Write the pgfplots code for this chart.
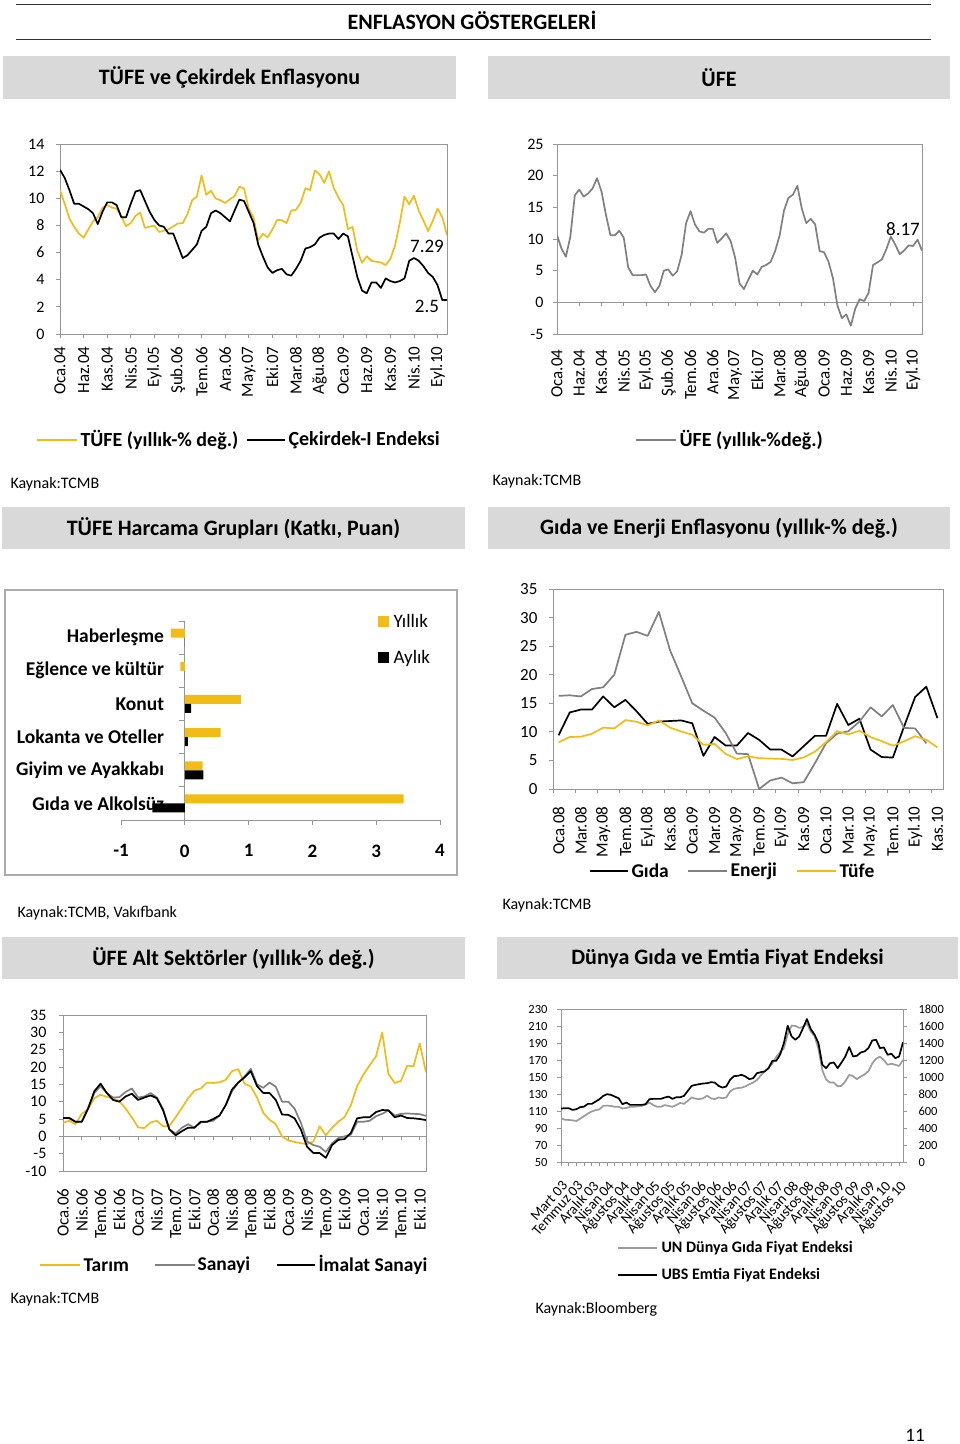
\documentclass[border=0pt]{standalone}
\usepackage{pgfplots}
\usepackage{pgfplotstable}
\pgfplotsset{compat=1.18}
\usepackage{fontspec}
\setmainfont{Carlito}
\definecolor{tyel}{RGB}{242,188,22}
\definecolor{tgry}{RGB}{128,128,128}
\definecolor{lgry}{RGB}{155,155,155}
\definecolor{boxg}{RGB}{217,217,217}
\definecolor{axg}{RGB}{150,150,150}
\newcommand\fs[1]{\fontsize{#1}{#1}\selectfont}
\pgfplotsset{
 xl/.style={scale only axis, anchor=south west,
   axis line style={axg,line width=0.9pt},
   tick style={axg,line width=0.8pt},
   tick align=outside, major tick length=4pt, minor tick length=4pt,
   tick pos=left,
   /pgf/number format/assume math mode=true,
   /pgf/number format/1000 sep={},
   yticklabel style={font=\fs{16}},
   xticklabel style={rotate=90,anchor=east,font=\fs{17}},
   every axis plot/.append style={line width=1.7pt,mark=none,line join=round}},
}
% TUFE (yillik) Oca.04 - Kas.10
\pgfplotstableread[row sep=\\]{v\\
10.6\\9.6\\8.5\\7.9\\7.4\\7.1\\7.7\\8.3\\8.6\\9.3\\9.5\\9.32\\
9.24\\8.69\\7.94\\8.18\\8.70\\8.95\\7.82\\7.91\\7.99\\7.52\\7.61\\7.72\\
7.93\\8.15\\8.16\\8.83\\9.86\\10.12\\11.69\\10.26\\10.55\\9.98\\9.86\\9.65\\
9.93\\10.16\\10.86\\10.72\\9.23\\8.60\\6.90\\7.39\\7.12\\7.70\\8.40\\8.39\\
8.17\\9.10\\9.15\\9.66\\10.74\\10.61\\12.06\\11.77\\11.13\\11.99\\10.76\\10.06\\
9.50\\7.73\\7.89\\6.13\\5.24\\5.73\\5.39\\5.33\\5.27\\5.08\\5.53\\6.53\\
8.19\\10.13\\9.56\\10.19\\9.10\\8.37\\7.58\\8.33\\9.24\\8.62\\7.29\\}\tufeA
% Cekirdek-I
\pgfplotstableread[row sep=\\]{v\\
12.1\\11.5\\10.6\\9.6\\9.6\\9.4\\9.2\\8.9\\8.1\\9.0\\9.7\\9.7\\
9.5\\8.6\\8.6\\9.6\\10.5\\10.6\\9.8\\9.0\\8.4\\8.0\\7.9\\7.4\\
7.4\\6.5\\5.6\\5.8\\6.2\\6.6\\7.6\\7.9\\8.9\\9.1\\8.9\\8.6\\
8.3\\9.1\\9.9\\9.8\\9.0\\8.2\\6.6\\5.7\\4.9\\4.5\\4.7\\4.8\\
4.4\\4.3\\4.8\\5.4\\6.3\\6.4\\6.6\\7.1\\7.3\\7.4\\7.4\\7.0\\
7.4\\7.2\\5.7\\4.2\\3.2\\3.0\\3.8\\3.8\\3.4\\4.1\\3.9\\3.8\\
3.9\\4.1\\5.4\\5.6\\5.4\\5.0\\4.5\\4.2\\3.6\\2.5\\2.5\\}\coreA
% UFE
\pgfplotstableread[row sep=\\]{v\\
10.6\\8.5\\7.2\\10.4\\16.9\\17.8\\16.7\\17.2\\18.0\\19.6\\17.5\\13.8\\
10.6\\10.6\\11.3\\10.2\\5.5\\4.3\\4.3\\4.3\\4.4\\2.6\\1.6\\2.6\\
5.0\\5.2\\4.2\\4.9\\7.5\\12.5\\14.4\\12.3\\11.2\\11.0\\11.6\\11.6\\
9.4\\10.1\\10.9\\9.7\\7.1\\3.0\\2.1\\3.6\\5.0\\4.4\\5.6\\5.9\\
6.4\\8.1\\10.5\\14.5\\16.5\\17.0\\18.4\\14.8\\12.5\\13.2\\12.3\\8.1\\
7.9\\6.4\\3.8\\-0.5\\-2.5\\-1.9\\-3.7\\-1.0\\0.5\\0.2\\1.5\\5.9\\
6.3\\6.8\\8.4\\10.4\\9.1\\7.6\\8.2\\9.0\\8.9\\9.9\\8.17\\}\ufeA
% Gida / Enerji / Tufe  Oca.08 - Kas.10
\pgfplotstableread[row sep=\\]{v\\
9.4\\13.4\\13.9\\13.9\\16.2\\14.3\\15.6\\13.6\\11.4\\11.8\\11.9\\12.0\\
11.5\\5.8\\9.1\\7.6\\7.6\\9.8\\8.6\\6.9\\6.9\\5.7\\7.5\\9.3\\
9.3\\14.9\\11.2\\12.3\\6.9\\5.6\\5.5\\10.9\\16.1\\17.9\\12.4\\}\gidaB
\pgfplotstableread[row sep=\\]{v\\
16.3\\16.4\\16.2\\17.5\\17.8\\20.0\\27.0\\27.5\\26.8\\31.0\\24.3\\19.7\\
15.0\\13.7\\12.5\\9.8\\6.2\\6.1\\0.0\\1.5\\2.0\\1.0\\1.2\\4.5\\
8.0\\9.7\\10.1\\11.8\\14.3\\12.7\\14.7\\10.7\\10.6\\8.0\\}\enerjiB
\pgfplotstableread[row sep=\\]{v\\
8.17\\9.10\\9.15\\9.66\\10.74\\10.61\\12.06\\11.77\\11.13\\11.99\\10.76\\10.06\\
9.50\\7.73\\7.89\\6.13\\5.24\\5.73\\5.39\\5.33\\5.27\\5.08\\5.53\\6.53\\
8.19\\10.13\\9.56\\10.19\\9.10\\8.37\\7.58\\8.33\\9.24\\8.62\\7.29\\}\tufeB
% UFE alt sektorler Oca.06 - Kas.10
\pgfplotstableread[row sep=\\]{v\\
3.9\\4.5\\3.5\\6.5\\7.8\\11.0\\12.0\\11.4\\10.9\\10.2\\
8.0\\5.5\\2.6\\2.4\\4.0\\4.5\\2.9\\3.0\\5.5\\8.2\\
11.0\\13.2\\13.8\\15.5\\15.4\\15.6\\16.3\\18.8\\19.4\\15.2\\
14.4\\11.2\\6.8\\4.8\\3.5\\0.0\\-1.2\\-1.6\\-2.0\\-2.2\\
-1.5\\2.9\\0.3\\2.5\\4.2\\5.6\\9.0\\14.5\\17.8\\20.5\\
23.0\\30.0\\18.0\\15.4\\16.0\\20.4\\20.2\\26.8\\18.5\\}\tarimC
\pgfplotstableread[row sep=\\]{v\\
5.3\\5.2\\4.2\\4.2\\8.0\\12.5\\14.5\\12.5\\11.2\\11.3\\
12.8\\13.8\\11.2\\11.5\\12.5\\11.2\\7.8\\2.0\\0.8\\2.5\\
3.5\\2.5\\4.0\\4.2\\4.5\\6.0\\9.0\\13.0\\15.5\\17.2\\
19.5\\15.0\\14.0\\15.5\\14.3\\10.0\\10.0\\8.0\\4.0\\-1.5\\
-2.5\\-3.0\\-4.5\\-2.0\\-0.5\\0.0\\0.5\\4.2\\4.2\\4.5\\
5.8\\6.5\\7.5\\6.0\\6.5\\6.6\\6.5\\6.4\\5.9\\}\sanayiC
\pgfplotstableread[row sep=\\]{v\\
5.3\\5.3\\4.2\\4.2\\8.0\\13.0\\15.2\\12.5\\10.5\\10.0\\
11.5\\12.3\\10.5\\11.2\\11.8\\11.0\\7.5\\2.0\\0.3\\1.5\\
2.5\\2.5\\4.2\\4.2\\5.0\\6.0\\9.0\\13.5\\15.5\\17.0\\
18.8\\14.5\\12.5\\12.5\\10.5\\6.3\\6.2\\5.2\\2.0\\-3.0\\
-4.8\\-4.8\\-6.2\\-2.5\\-1.0\\-0.8\\1.0\\5.2\\5.5\\5.5\\
7.0\\7.6\\7.5\\5.5\\6.0\\5.3\\5.2\\5.0\\4.7\\}\imalatC
% Dunya gida / emtia  Mart 03 - 2010
\pgfplotstableread[row sep=\\]{v\\
101.5\\99.7\\99.5\\99.0\\98.3\\101\\104\\107\\109.5\\111\\
112\\116\\116.4\\116\\115\\115\\113\\113.5\\115\\115\\
115.5\\116\\117.5\\120\\117\\115\\115\\117\\116\\115\\
117\\119.5\\118.5\\122\\126\\124.5\\124\\125\\128\\125\\
124\\126\\125\\126\\133\\136\\137\\137.5\\139\\141.5\\
143.5\\146.5\\152\\156.5\\160.5\\166\\173.5\\179\\184\\200\\
210.5\\210\\207.8\\209\\213\\203.5\\198\\183\\158\\147\\
143.5\\143.5\\139\\139.6\\145\\152.5\\151\\147.5\\150.6\\153\\
157\\166\\171.5\\174\\170\\164.4\\165.6\\164.4\\163\\170\\}\unD
\pgfplotstableread[row sep=\\]{v\\
629\\633\\633\\613\\621\\645\\652\\684\\684\\711\\
739\\778\\798\\790\\770\\750\\680\\700\\672\\672\\
672\\672\\680\\739\\743\\743\\743\\759\\770\\743\\
762\\762\\778\\837\\896\\908\\916\\924\\927\\939\\
935\\896\\876\\888\\967\\1010\\1014\\1026\\1006\\975\\
986\\1045\\1057\\1065\\1104\\1190\\1190\\1262\\1399\\1603\\
1478\\1438\\1478\\1576\\1682\\1564\\1497\\1399\\1144\\1104\\
1163\\1171\\1104\\1171\\1242\\1352\\1242\\1250\\1289\\1301\\
1340\\1430\\1438\\1340\\1348\\1262\\1273\\1222\\1242\\1411\\}\ubsD

\begin{document}
\begin{tikzpicture}[x=1pt,y=1pt]
\fill[white] (0,0) rectangle (960,-1444);
\useasboundingbox (0,0) rectangle (960,-1444);

% ---------- header ----------
\draw[line width=1pt,black!80] (16,-4) -- (931,-4);
\draw[line width=1pt,black!80] (16,-39) -- (931,-39);
\node[font=\bfseries\fs{22}] at (472,-20.5) {ENFLASYON GÖSTERGELERİ};

\fill[boxg] (3,-56) rectangle (456,-99);
\node[font=\bfseries\fs{22}] at (229.5,-77.5) {TÜFE ve Çekirdek Enflasyonu};
\fill[boxg] (488,-56) rectangle (950,-99);
\node[font=\bfseries\fs{22}] at (719,-77.5) {ÜFE};

\fill[boxg] (2,-507) rectangle (465,-549);
\node[font=\bfseries\fs{22}] at (233.5,-528) {TÜFE Harcama Grupları (Katkı, Puan)};
\fill[boxg] (488,-507) rectangle (950,-549);
\node[font=\bfseries\fs{22}] at (719,-528) {Gıda ve Enerji Enflasyonu (yıllık-\% değ.)};

\fill[boxg] (2,-937) rectangle (465,-979);
\node[font=\bfseries\fs{22}] at (233.5,-958) {ÜFE Alt Sektörler (yıllık-\% değ.)};
\fill[boxg] (497,-937) rectangle (958,-979);
\node[font=\bfseries\fs{22}] at (727.5,-958) {Dünya Gıda ve Emtia Fiyat Endeksi};

% ---------- chart 1 ----------
\begin{axis}[xl, at={(60pt,-334pt)}, width=387pt, height=190pt,
  xmin=0, xmax=82, ymin=0, ymax=14, ytick={0,2,...,14},
  xtick={0,5,...,80}, xticklabel shift=5pt, yticklabel shift=8pt,
  xticklabels={Oca.04,Haz.04,Kas.04,Nis.05,Eyl.05,Şub.06,Tem.06,Ara.06,May.07,Eki.07,Mar.08,Ağu.08,Oca.09,Haz.09,Kas.09,Nis.10,Eyl.10}]
\addplot[tyel] table[x expr=\coordindex, y=v] {\tufeA};
\addplot[black] table[x expr=\coordindex, y=v] {\coreA};
\end{axis}
\node[font=\fs{19}] at (427,-246) {7.29};
\node[font=\fs{19}] at (427,-306) {2.5};
\draw[tyel,line width=2pt] (37,-440) -- (77,-440);
\node[anchor=west,font=\bfseries\fs{20}] at (77,-440) {TÜFE (yıllık-\% değ.)};
\draw[black,line width=2pt] (247,-440) -- (285,-440);
\node[anchor=west,font=\bfseries\fs{20}] at (285,-440) {Çekirdek-I Endeksi};
\node[anchor=west,font=\fs{16}] at (7,-484) {Kaynak:TCMB};

% ---------- chart 2 ----------
\begin{axis}[xl, at={(557pt,-334pt)}, width=365pt, height=190pt,
  xmin=0, xmax=82, ymin=-5, ymax=25, ytick={-5,0,...,25}, minor ytick={-5,0,...,25},
  major tick length=0pt, yticklabel shift=10pt, xticklabel shift=12pt,
  xtick={0,5,...,80},
  xticklabels={Oca.04,Haz.04,Kas.04,Nis.05,Eyl.05,Şub.06,Tem.06,Ara.06,May.07,Eki.07,Mar.08,Ağu.08,Oca.09,Haz.09,Kas.09,Nis.10,Eyl.10}]
\draw[axg,line width=0.9pt] (axis cs:0,0) -- (axis cs:82,0);
\pgfplotsinvokeforeach{0,5,...,80}{\draw[axg,line width=0.8pt] (axis cs:#1,0) -- ++(0pt,-4pt);}
\addplot[tgry] table[x expr=\coordindex, y=v] {\ufeA};
\end{axis}
\node[font=\fs{19}] at (903,-229) {8.17};
\draw[tgry,line width=2pt] (636,-440) -- (676,-440);
\node[anchor=west,font=\bfseries\fs{20}] at (676,-440) {ÜFE (yıllık-\%değ.)};
\node[anchor=west,font=\fs{16}] at (489,-481) {Kaynak:TCMB};

% ---------- chart 3 ----------
\draw[axg!80,line width=1.5pt] (5,-590) rectangle (457,-875);
\begin{axis}[scale only axis, anchor=south west, at={(121pt,-820pt)}, width=319pt, height=199pt,
  clip=false,
  xbar, bar width=9pt, xmin=-1, xmax=4, ymin=-0.5, ymax=5.5,
  axis x line=bottom, axis y line=middle,
  axis line style={-,axg,line width=1pt},
  hide obscured x ticks=false,
  xtick={-1,0,...,4}, ytick=\empty,
  tick style={axg,line width=0.9pt}, tick align=outside, major tick length=5pt,
  /pgf/number format/assume math mode=true,
  xticklabel style={font=\bfseries\fs{19}, yshift=-16pt}]
\node[anchor=east,font=\bfseries\fs{19.5}] at (axis cs:-0.27,5) {Haberleşme};
\node[anchor=east,font=\bfseries\fs{19.5}] at (axis cs:-0.27,4) {Eğlence ve kültür};
\node[anchor=east,font=\bfseries\fs{19.5}] at (axis cs:-0.27,3) {Konut};
\node[anchor=east,font=\bfseries\fs{19.5}] at (axis cs:-0.27,2) {Lokanta ve Oteller};
\node[anchor=east,font=\bfseries\fs{19.5}] at (axis cs:-0.27,1) {Giyim ve Ayakkabı};
\node[anchor=east,font=\bfseries\fs{19.5}] at (axis cs:-0.27,0) {Gıda ve Alkolsüz};
\addplot[fill=tyel, draw=none, bar shift=4.5pt] coordinates {(3.43,0) (0.28,1) (0.56,2) (0.88,3) (-0.07,4) (-0.22,5)};
\addplot[fill=black, draw=none, bar shift=-4.5pt] coordinates {(-0.51,0) (0.29,1) (0.05,2) (0.10,3) (0,4) (0,5)};
\pgfplotsinvokeforeach{-0.5,0.5,...,5.5}{\draw[axg,line width=0.9pt] (axis cs:0,#1) -- ++(-6pt,0pt);}
\end{axis}
\fill[tyel] (378,-616) rectangle (389,-627);
\node[anchor=west,font=\fs{19}] at (390,-621) {Yıllık};
\fill[black] (378,-652) rectangle (389,-663);
\node[anchor=west,font=\fs{19}] at (390,-658) {Aylık};
\node[anchor=west,font=\fs{16}] at (14,-913) {Kaynak:TCMB, Vakıfbank};

% ---------- chart 4 ----------
\begin{axis}[xl, at={(553pt,-789pt)}, width=390pt, height=200pt,
  xmin=-0.5, xmax=34.5, ymin=0, ymax=35, ytick={0,5,...,35}, minor ytick={0,5,...,35},
  major tick length=0pt, yticklabel shift=12pt, xticklabel shift=14pt,
  yticklabel style={font=\fs{17}},
  xtick={0,2,...,34}, minor xtick={-0.5,1.5,...,33.5},
  xticklabels={Oca.08,Mar.08,May.08,Tem.08,Eyl.08,Kas.08,Oca.09,Mar.09,May.09,Tem.09,Eyl.09,Kas.09,Oca.10,Mar.10,May.10,Tem.10,Eyl.10,Kas.10}]
\addplot[black] table[x expr=\coordindex, y=v] {\gidaB};
\addplot[tgry] table[x expr=\coordindex, y=v] {\enerjiB};
\addplot[tyel] table[x expr=\coordindex, y=v] {\tufeB};
\end{axis}
\draw[black,line width=2pt] (590,-871) -- (628,-871);
\node[anchor=west,font=\bfseries\fs{19.5}] at (628,-871) {Gıda};
\draw[tgry,line width=2pt] (688,-871) -- (727,-871);
\node[anchor=west,font=\bfseries\fs{19.5}] at (727,-871) {Enerji};
\draw[tyel,line width=2pt] (797,-871) -- (836,-871);
\node[anchor=west,font=\bfseries\fs{19.5}] at (836,-871) {Tüfe};
\node[anchor=west,font=\fs{16}] at (499,-905) {Kaynak:TCMB};

% ---------- chart 5 ----------
\begin{axis}[xl, at={(63pt,-1171pt)}, width=363pt, height=156pt,
  xmin=0, xmax=58, ymin=-10, ymax=35, ytick={-10,-5,...,35}, minor ytick={-10,-5,...,35},
  major tick length=0pt, yticklabel shift=13pt, xticklabel shift=14pt,
  xtick={0,3,...,57},
  xticklabels={Oca.06,Nis.06,Tem.06,Eki.06,Oca.07,Nis.07,Tem.07,Eki.07,Oca.08,Nis.08,Tem.08,Eki.08,Oca.09,Nis.09,Tem.09,Eki.09,Oca.10,Nis.10,Tem.10,Eki.10}]
\draw[axg,line width=0.9pt] (axis cs:0,0) -- (axis cs:58,0);
\pgfplotsinvokeforeach{0,3,...,57}{\draw[axg,line width=0.8pt] (axis cs:#1,0) -- ++(0pt,-4pt);}
\addplot[tyel] table[x expr=\coordindex, y=v] {\tarimC};
\addplot[tgry] table[x expr=\coordindex, y=v] {\sanayiC};
\addplot[black] table[x expr=\coordindex, y=v] {\imalatC};
\end{axis}
\draw[tyel,line width=2pt] (40,-1265) -- (80,-1265);
\node[anchor=west,font=\bfseries\fs{19.5}] at (80,-1265) {Tarım};
\draw[tgry,line width=2pt] (155,-1265) -- (195,-1265);
\node[anchor=west,font=\bfseries\fs{19.5}] at (194,-1265) {Sanayi};
\draw[black,line width=2pt] (277,-1265) -- (315,-1265);
\node[anchor=west,font=\bfseries\fs{19.5}] at (315,-1265) {İmalat Sanayi};
\node[anchor=west,font=\fs{16}] at (7,-1299) {Kaynak:TCMB};

% ---------- chart 6 ----------
\begin{axis}[xl, at={(561pt,-1162pt)}, width=342pt, height=153pt,
  xmin=0, xmax=89, ymin=50, ymax=230, ytick={50,70,...,230},
  ytick pos=left, yticklabel shift=6pt,
  yticklabel style={font=\fs{12.5}},
  xtick={0,4,...,88}, minor xtick={2,6,...,86}, xticklabel shift=9pt,
  xticklabels={Mart 03,Temmuz 03,Aralık 03,Nisan 04,Ağustos 04,Aralık 04,Nisan 05,Ağustos 05,Aralık 05,Nisan 06,Ağustos 06,Aralık 06,Nisan 07,Ağustos 07,Aralık 07,Nisan 08,Ağustos 08,Aralık 08,Nisan 09,Ağustos 09,Aralık 09,Nisan 10,Ağustos 10},
  xticklabel style={rotate=-42,anchor=north east,font=\fs{14.5}}]
\addplot[lgry] table[x expr=\coordindex, y=v] {\unD};
\end{axis}
\begin{axis}[xl, at={(561pt,-1162pt)}, width=342pt, height=153pt,
  xmin=0, xmax=89, ymin=0, ymax=1800, ytick={0,200,...,1800},
  axis x line=none, axis y line*=right, ytick pos=right,
  axis line style={-,axg,line width=0.9pt}, yticklabel shift=8pt,
  yticklabel style={font=\fs{12.5}}]
\addplot[black] table[x expr=\coordindex, y=v] {\ubsD};
\end{axis}
\draw[lgry,line width=2pt] (618,-1248) -- (657,-1248);
\node[anchor=west,font=\bfseries\fs{16}] at (658,-1248) {UN Dünya Gıda Fiyat Endeksi};
\draw[black,line width=2pt] (618,-1275) -- (657,-1275);
\node[anchor=west,font=\bfseries\fs{16}] at (658,-1275) {UBS Emtia Fiyat Endeksi};
\node[anchor=west,font=\fs{16}] at (532,-1309) {Kaynak:Bloomberg};

\node[font=\fs{19}] at (915,-1435) {11};
\end{tikzpicture}
\end{document}
